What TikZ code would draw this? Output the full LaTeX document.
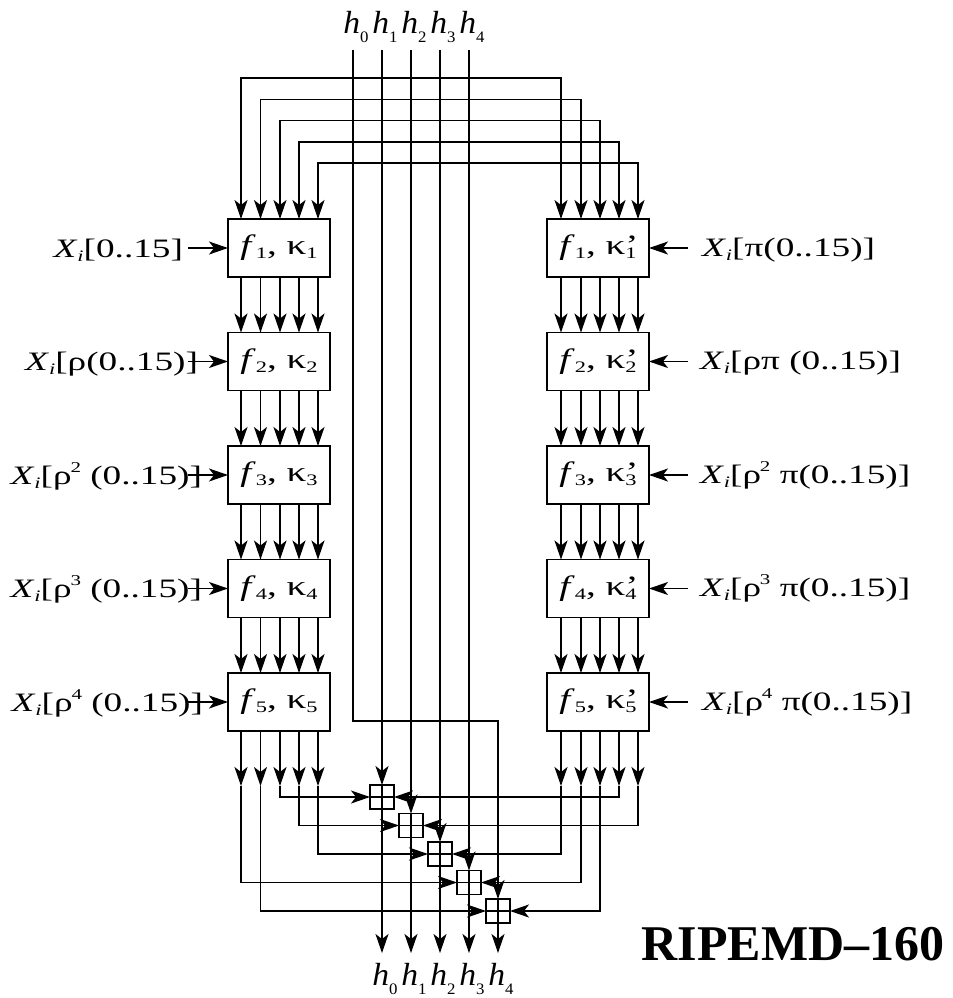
\documentclass[tikz,border=0pt]{standalone}
\usepackage{fontspec}
\setmainfont{Liberation Serif}
\newfontfamily\wf{Liberation Serif}[FakeStretch=1.4]
\newfontfamily\hf{Liberation Serif}[FakeStretch=1.05]
\usetikzlibrary{arrows.meta}
\newcommand\dn[1]{\raisebox{-2pt}{\fontsize{8}{8}\selectfont #1}}
\newcommand\hdn[1]{\raisebox{-4.5pt}{\fontsize{8}{8}\selectfont #1}}
\newcommand\up[1]{\kern-0.6pt\raisebox{6pt}{\fontsize{7.5}{7.5}\selectfont #1}}
\newcommand\Xsub{\textit{X}\dn{\textit{i}}}
\begin{document}
\begin{tikzpicture}[x=0.5pt,y=-0.5pt, line width=0.75pt,
  arr/.style={-{Stealth[length=9.5pt,width=6.5pt,inset=2.5pt]}},
  darr/.style={{Stealth[length=9.5pt,width=6.5pt,inset=2.5pt]}-{Stealth[length=9.5pt,width=6.5pt,inset=2.5pt]}},
  fbox/.style={draw, minimum width=51pt, minimum height=29pt, inner sep=0pt, outer sep=0pt, font=\wf\fontsize{14}{16}\selectfont},
  adder/.style={draw, minimum size=12pt, inner sep=0pt, outer sep=0pt,
    path picture={\draw[line width=0.75pt] (path picture bounding box.north) -- (path picture bounding box.south)
      (path picture bounding box.west) -- (path picture bounding box.east);}},
  lab/.style={inner sep=0pt, outer sep=0pt, font=\wf\fontsize{13.3}{15}\selectfont},
  hlab/.style={inner sep=0pt, outer sep=0pt, font=\hf\fontsize{16}{18}\selectfont, anchor=base}]
\useasboundingbox (0,0) rectangle (953,998);

% round boxes
\foreach \k/\y in {1/248,2/361.5,3/475,4/588.5,5/702}{
  \node[fbox] (L\k) at (279,\y) {\textit{f}\dn{\k}, κ\dn{\k}};
  \node[fbox] (R\k) at (598,\y) {\textit{f}\dn{\k}, κ\rlap{’}\dn{\k}};
  \coordinate (il\k) at (188,\y);
  \coordinate (ir\k) at (688,\y);
}

% column coordinates
\coordinate (lc1) at (241,0);
\coordinate (lc2) at (260.5,0);
\coordinate (lc3) at (280,0);
\coordinate (lc4) at (299,0);
\coordinate (lc5) at (318,0);
\coordinate (rc1) at (561,0);
\coordinate (rc2) at (581,0);
\coordinate (rc3) at (600,0);
\coordinate (rc4) at (619,0);
\coordinate (rc5) at (638,0);

% top rows
\coordinate (t1) at (0,78);
\coordinate (t2) at (0,99.25);
\coordinate (t3) at (0,120.5);
\coordinate (t4) at (0,141.75);
\coordinate (t5) at (0,163);
\foreach \c in {1,...,5}{
  \draw[darr] (L1.north -| lc\c) -- (lc\c |- t\c) -- (rc\c |- t\c) -- (R1.north -| rc\c);
}

% between boxes
\foreach \k/\n in {1/2,2/3,3/4,4/5}{
  \foreach \c in {1,...,5}{
    \draw[arr] (L\k.south -| lc\c) -- (L\n.north -| lc\c);
    \draw[arr] (R\k.south -| rc\c) -- (R\n.north -| rc\c);
  }
}

% outputs of last boxes
\coordinate (tip) at (0,786);
\foreach \c in {1,...,5}{
  \draw[arr] (L5.south -| lc\c) -- (lc\c |- tip);
  \draw[arr] (R5.south -| rc\c) -- (rc\c |- tip);
}

% input labels
\node[lab, anchor=base east] (xl1) at (183,257) {\Xsub[0..15]};
\node[lab, anchor=base east] (xl2) at (198,370.5) {\Xsub[ρ(0..15)]};
\node[lab, anchor=base east] (xl3) at (202,484) {\Xsub[ρ\up{2} (0..15)]};
\node[lab, anchor=base east] (xl4) at (202,597.5) {\Xsub[ρ\up{3} (0..15)]};
\node[lab, anchor=base east] (xl5) at (203,711) {\Xsub[ρ\up{4} (0..15)]};
\node[lab, anchor=base west] (xr1) at (702,256) {\Xsub[π(0..15)]};
\node[lab, anchor=base west] (xr2) at (700,369.5) {\Xsub[ρπ (0..15)]};
\node[lab, anchor=base west] (xr3) at (700,483) {\Xsub[ρ\up{2} π(0..15)]};
\node[lab, anchor=base west] (xr4) at (700,596.5) {\Xsub[ρ\up{3} π(0..15)]};
\node[lab, anchor=base west] (xr5) at (702,710) {\Xsub[ρ\up{4} π(0..15)]};
\foreach \k in {1,...,5}{
  \draw[arr] (il\k) -- (L\k.west);
  \draw[arr] (ir\k) -- (R\k.east);
}

% adders
\node[adder] (A1) at (382,797) {};
\node[adder] (A2) at (411,825.5) {};
\node[adder] (A3) at (440,854) {};
\node[adder] (A4) at (469,882.5) {};
\node[adder] (A5) at (498,911) {};

% top h labels and lines
\node[hlab] (ht0) at (356,33) {\textit{h}\hdn{0}};
\node[hlab] (ht1) at (385,33) {\textit{h}\hdn{1}};
\node[hlab] (ht2) at (414,33) {\textit{h}\hdn{2}};
\node[hlab] (ht3) at (443,33) {\textit{h}\hdn{3}};
\node[hlab] (ht4) at (472,33) {\textit{h}\hdn{4}};
\coordinate (s0) at (353,50);
\coordinate (s1) at (382,50);
\coordinate (s2) at (411,50);
\coordinate (s3) at (440,50);
\coordinate (s4) at (469,50);
\coordinate (k0) at (353,721);
\draw[arr] (s0) -- (k0) -| (A5.north);
\draw[arr] (s1) -- (A1.north);
\draw[arr] (s2) -- (A2.north);
\draw[arr] (s3) -- (A3.north);
\draw[arr] (s4) -- (A4.north);

% adder inputs from the two lines
\draw[arr] (lc3 |- tip) |- (A1.west);
\draw[arr] (lc4 |- tip) |- (A2.west);
\draw[arr] (lc5 |- tip) |- (A3.west);
\draw[arr] (lc1 |- tip) |- (A4.west);
\draw[arr] (lc2 |- tip) |- (A5.west);
\draw[arr] (rc4 |- tip) |- (A1.east);
\draw[arr] (rc5 |- tip) |- (A2.east);
\draw[arr] (rc1 |- tip) |- (A3.east);
\draw[arr] (rc2 |- tip) |- (A4.east);
\draw[arr] (rc3 |- tip) |- (A5.east);

% outputs
\coordinate (ebot) at (0,953);
\node[hlab] (hb0) at (385,985) {\textit{h}\hdn{0}};
\node[hlab] (hb1) at (414,985) {\textit{h}\hdn{1}};
\node[hlab] (hb2) at (443,985) {\textit{h}\hdn{2}};
\node[hlab] (hb3) at (472,985) {\textit{h}\hdn{3}};
\node[hlab] (hb4) at (501,985) {\textit{h}\hdn{4}};
\foreach \k in {1,...,5}{
  \draw[arr] (A\k.south) -- (A\k.south |- ebot);
}

% title
\node[font=\bfseries\fontsize{25}{30}\selectfont, inner sep=0pt] (title) at (793,944) {RIPEMD–160};
\end{tikzpicture}
\end{document}
